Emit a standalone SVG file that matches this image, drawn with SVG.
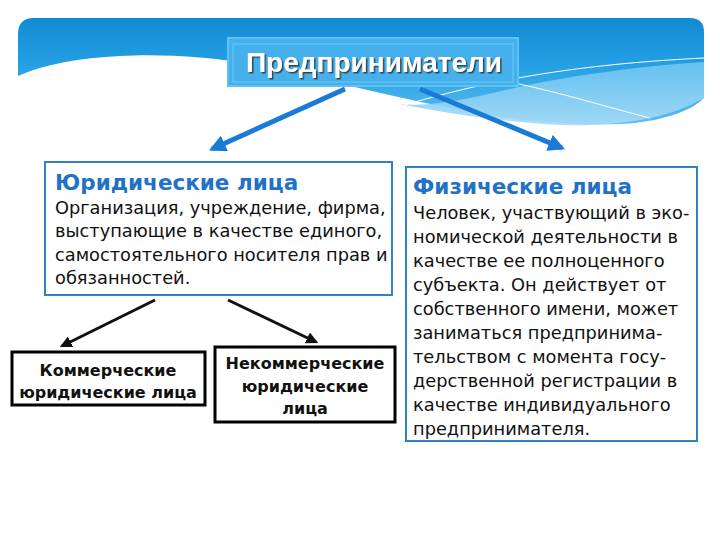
<svg xmlns="http://www.w3.org/2000/svg" width="720" height="540" viewBox="0 0 720 540">
<defs>
<linearGradient id="bannerGrad" x1="0" y1="0" x2="0" y2="1">
<stop offset="0" stop-color="#128ad3"/>
<stop offset="0.45" stop-color="#25a0e4"/>
<stop offset="1" stop-color="#5cbdf0"/>
</linearGradient>
<linearGradient id="lightGrad" x1="0" y1="0" x2="0" y2="1">
<stop offset="0" stop-color="#6cc4f2"/>
<stop offset="1" stop-color="#a6dbf7"/>
</linearGradient>
<marker id="blueHead" viewBox="0 0 10 10" refX="8" refY="5" markerWidth="3.4" markerHeight="3.4" orient="auto" markerUnits="strokeWidth">
<path d="M0,0 L10,5 L0,10 Z" fill="#1a7ad6"/>
</marker>
<marker id="blackHead" viewBox="0 0 10 10" refX="8" refY="5" markerWidth="4" markerHeight="4" orient="auto" markerUnits="strokeWidth">
<path d="M0,0 L10,5 L0,10 Z" fill="#111"/>
</marker>
<filter id="shadow" x="-10%" y="-20%" width="120%" height="140%">
<feDropShadow dx="1.5" dy="1.5" stdDeviation="0.6" flood-color="#333" flood-opacity="0.85"/>
</filter>
</defs>
<style>
.box { fill: #ffffff; stroke: #2f82c6; stroke-width: 2; }
.kbox { fill: #ffffff; stroke: #000000; stroke-width: 3; }
.head { font-family: "DejaVu Sans", Verdana, sans-serif; font-weight: bold; font-size: 21.5px; fill: #1f72c6; }
.body { font-family: "DejaVu Sans", Verdana, sans-serif; font-size: 17.8px; fill: #111111; }
.ktext { font-family: "DejaVu Sans", Verdana, sans-serif; font-weight: bold; font-size: 16px; fill: #111111; text-anchor: middle; }
.title { font-family: "Liberation Sans", Arial, sans-serif; font-weight: bold; font-size: 28px; fill: #ffffff; text-anchor: middle; }
.bluearrow { stroke: #1a7ad6; stroke-width: 5; fill: none; marker-end: url(#blueHead); }
.blackarrow { stroke: #111; stroke-width: 3; fill: none; marker-end: url(#blackHead); }
</style>
<rect width="720" height="540" fill="#ffffff"/>
<g id="banner">
<path d="M18,34 Q18,18 34,18 L690,18 Q704,18 704,32 L704,98 C690,112 660,122 620,124 C560,126 500,118 450,108 C380,94 320,78 262,66 C210,56 160,54 120,56 C80,58 45,64 18,76 Z" fill="url(#bannerGrad)"/>
<path d="M704,62 C640,66 560,76 480,96 C440,104 420,106 400,104 C440,112 500,122 560,125 C620,127 670,118 704,98 Z" fill="url(#lightGrad)" opacity="0.9"/>
<path d="M395,108 C470,85 560,65 704,58" stroke="#ffffff" stroke-width="1" fill="none"/>
<path d="M500,80 C560,92 610,108 650,118" stroke="#ffffff" stroke-width="1" fill="none"/>
</g>
<g id="title">
<rect x="228" y="38" width="290" height="48" fill="#45b0ec" stroke="#5ec2f3" stroke-width="2"/>
<rect x="233" y="44" width="280" height="38" fill="none" stroke="#6ccaf5" stroke-width="1"/>
<text class="title" x="374" y="72" filter="url(#shadow)">Предприниматели</text>
</g>
<g id="connectors">
<line class="bluearrow" x1="345" y1="89" x2="212" y2="149"/>
<line class="bluearrow" x1="420" y1="89" x2="562" y2="148"/>
<line class="blackarrow" x1="155" y1="300" x2="62" y2="346"/>
<line class="blackarrow" x1="228" y1="300" x2="316" y2="342"/>
</g>
<g id="legal">
<rect class="box" x="45" y="162" width="347" height="133"/>
<text class="head" x="55" y="190">Юридические лица</text>
<text class="body" x="55" y="214">Организация, учреждение, фирма,</text>
<text class="body" x="55" y="237">выступающие в качестве единого,</text>
<text class="body" x="55" y="261">самостоятельного носителя прав и</text>
<text class="body" x="55" y="284">обязанностей.</text>
</g>
<g id="physical">
<rect class="box" x="406" y="167" width="291" height="274"/>
<text class="head" x="413" y="194">Физические лица</text>
<text class="body" x="413" y="219">Человек, участвующий в эко-</text>
<text class="body" x="413" y="243">номической деятельности в</text>
<text class="body" x="413" y="267">качестве ее полноценного</text>
<text class="body" x="413" y="291">субъекта. Он действует от</text>
<text class="body" x="413" y="315">собственного имени, может</text>
<text class="body" x="413" y="339">заниматься предпринима-</text>
<text class="body" x="413" y="363">тельством с момента госу-</text>
<text class="body" x="413" y="387">дерственной регистрации в</text>
<text class="body" x="413" y="411">качестве индивидуального</text>
<text class="body" x="413" y="435">предпринимателя.</text>
</g>
<g id="commercial">
<rect class="kbox" x="12" y="352" width="193" height="53"/>
<text class="ktext" x="108" y="376">Коммерческие</text>
<text class="ktext" x="108" y="398">юридические лица</text>
</g>
<g id="noncommercial">
<rect class="kbox" x="215" y="347" width="180" height="75"/>
<text class="ktext" x="305" y="369">Некоммерческие</text>
<text class="ktext" x="305" y="392">юридические</text>
<text class="ktext" x="305" y="414">лица</text>
</g>
</svg>
